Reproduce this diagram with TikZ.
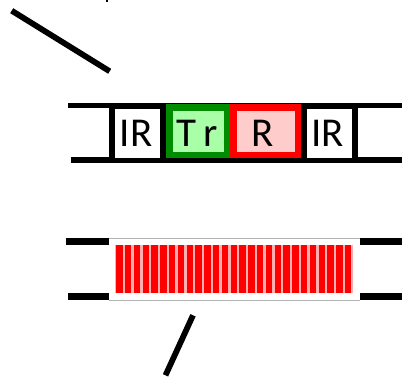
\documentclass[tikz,border=0pt]{standalone}
\usepackage{fontspec}
\setmainfont{Carlito}
\definecolor{dkgreen}{RGB}{0,140,0}
\definecolor{ltgreen}{RGB}{168,255,168}
\definecolor{ltred}{RGB}{255,204,204}
\definecolor{stripegap}{RGB}{255,175,175}
\begin{document}
\begin{tikzpicture}[x=1pt,y=-1pt,
  dna/.style={line width=5.5pt,black},
  stub/.style={line width=6.5pt,black},
  thinedge/.style={line width=1pt,black!30},
  pointer/.style={line width=5.8pt,black},
  irbox/.style={rectangle,fill=white,inner sep=0pt,minimum width=45pt,minimum height=49pt},
  cbox/.style={rectangle,line width=6.5pt,inner sep=0pt,minimum height=47.5pt},
  lbl/.style={font=\fontsize{41}{41}\selectfont,inner sep=0pt}
]
\useasboundingbox (0,0) rectangle (402,380);
% speck at top
\fill (106,0) rectangle (108,1.5);
% pointer lines
\coordinate (p1a) at (11.7,10.7);
\coordinate (p1b) at (109.7,71.3);
\draw[pointer] (p1a) -- (p1b);
\coordinate (p2a) at (193,315.3);
\coordinate (p2b) at (165.5,375.3);
\draw[pointer] (p2a) -- (p2b);
% top DNA
\coordinate (tl1) at (68,105.5);  \coordinate (tr1) at (402,105.5);
\coordinate (tl2) at (71,160);    \coordinate (tr2) at (402,160);
\draw[dna] (tl1) -- (tr1);
\draw[dna] (tl2) -- (tr2);
\fill[black] (109,102.5) rectangle (358,163);
\node[irbox] (ir1) at (137.5,133) {};
\node[irbox] (ir2) at (329.5,133) {};
\node[cbox,draw=dkgreen,fill=ltgreen,minimum width=57.5pt] (tr) at (198,131) {};
\node[cbox,draw=red,fill=ltred,minimum width=64.5pt] (rr) at (265.5,131) {};
\node[lbl] (t1) at (136,133.5) {IR};
\node[lbl] (t2) at (327.5,133.5) {IR};
\node[lbl] (t3) at (197.5,133.5) {T\kern7pt r};
\node[lbl] (t4) at (262.5,133.5) {R};
% bottom
\coordinate (bl1) at (66,241.5);  \coordinate (bm1) at (109,241.5);
\coordinate (bn1) at (360,241.5); \coordinate (br1) at (402,241.5);
\coordinate (bl2) at (68,296.5);  \coordinate (bm2) at (109,296.5);
\coordinate (bn2) at (360,296.5); \coordinate (br2) at (402,296.5);
\draw[stub] (bl1) -- (bm1);
\draw[stub] (bn1) -- (br1);
\draw[stub] (bl2) -- (bm2);
\draw[stub] (bn2) -- (br2);
\draw[thinedge] (109,238.5) -- (360,238.5);
\draw[thinedge] (109,300) -- (360,300);
\fill[stripegap] (115,245) rectangle (353,293);
\foreach \i in {0,...,26}{
  \fill[red] ({115+\i*8.8+1.2},245) rectangle ({115+\i*8.8+7.6},293);
}
\end{tikzpicture}
\end{document}
